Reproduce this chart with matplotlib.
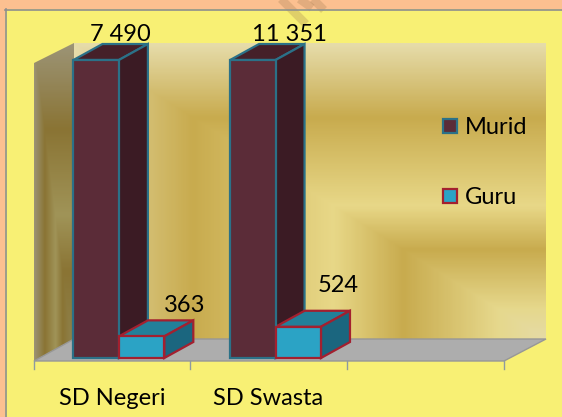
import numpy as np
import matplotlib
matplotlib.use('Agg')
import matplotlib.pyplot as plt
from matplotlib.colors import LinearSegmentedColormap
from matplotlib.patches import Polygon, Rectangle

plt.rcParams['font.family'] = ['Lato', 'DejaVu Sans']

categories = ['SD Negeri', 'SD Swasta', '']
murid = [7490, 11351, None]
guru = [363, 524, None]
series_names = ['Murid', 'Guru']
ymax = 5000  # axis is cut off here, the tall bars run into the top

W, H = 562, 417
fig = plt.figure(figsize=(W / 100, H / 100), dpi=100, facecolor='#f8f074')

# pixel layer for the frame and walls
bg = fig.add_axes([0, 0, 1, 1])
bg.set_xlim(0, W)
bg.set_ylim(H, 0)
bg.axis('off')
bg.add_patch(Rectangle((0, 0), W, 9, fc='#fcc090', ec='none'))
bg.add_patch(Rectangle((0, 0), 5, H, fc='#fcc090', ec='none'))
bg.plot([5, W], [9.5, 9.5], color='#8e8e8e', lw=1.2)
bg.plot([5.5, 5.5], [9, H], color='#8e8e8e', lw=1.2)

# bits of the faint watermark over the top edge
for seg in [((280, -2), (306, 24)), ((298, -2), (312, 8)), ((312, -2), (324, 10))]:
    bg.plot(*zip(*seg), color='#a07a50', alpha=0.28, lw=6, solid_capstyle='butt', zorder=1.5)

# back wall gradient
wall = LinearSegmentedColormap.from_list('wall', [
    (0, '#e5dba6'), (0.1, '#e6d88c'), (0.3, '#c8ab4e'), (0.45, '#e8d888'),
    (0.75, '#c8ab4e'), (1, '#e6dcaa')])
xx, yy = np.meshgrid(np.linspace(0, 1, 300), np.linspace(0, 1, 300))
t = np.maximum(1 - xx, 1 - yy)
bg.imshow(t, cmap=wall, extent=[74, 546, 339, 43], aspect='auto', zorder=1)

# left wall
left = LinearSegmentedColormap.from_list('left', [
    (0, '#8f8450'), (0.28, '#8a7434'), (0.46, '#a09458'),
    (0.73, '#8a7434'), (1, '#9c9476')])
im = bg.imshow(t, cmap=left, extent=[34, 74, 361, 43], aspect='auto', zorder=1)
im.set_clip_path(Polygon([(34, 63), (74, 43), (74, 339), (34, 361)],
                         transform=bg.transData))
bg.set_xlim(0, W)
bg.set_ylim(H, 0)

# floor
bg.add_patch(Polygon([(34, 361), (504, 361), (546, 339), (74, 339)],
                     fc='#adadad', ec='#979797', lw=1, zorder=2))

# data axes, x in categories, y in values
ax = fig.add_axes([33.5 / W, 1 - 358 / H, 470 / W, 298 / H])
ax.patch.set_alpha(0)
ax.set_xlim(0, len(categories))
ax.set_ylim(0, ymax)
for s in ax.spines.values():
    s.set_visible(False)
ax.set_yticks([])
ax.set_xticks([])
for i in range(len(categories) + 1):
    bg.plot([33.5 + i * 470 / 3] * 2, [361, 368.5], color='#8e9aa0', lw=1, zorder=2)

bar_w = 0.29
gap = 0.255
dx, dy = 29 / (470 / 3), 16 / 298 * ymax


def box(x0, val, front, top, side, edge):
    h = min(val, ymax)
    ax.bar(x0, h, bar_w, align='edge', color=front, edgecolor=edge, lw=1.6, zorder=4, clip_on=False)
    ax.add_patch(Polygon([(x0, h), (x0 + bar_w, h), (x0 + bar_w + dx, h + dy), (x0 + dx, h + dy)],
                         fc=top, ec=edge, lw=1.6, zorder=3, clip_on=False))
    ax.add_patch(Polygon([(x0 + bar_w, 0), (x0 + bar_w + dx, dy), (x0 + bar_w + dx, h + dy), (x0 + bar_w, h)],
                         fc=side, ec=edge, lw=1.6, zorder=3, clip_on=False))
    return h


# label offsets from the front top right corner, in pixels (72 pt = 100 px here)
murid_off = [(1, 19), (14, 19)]
guru_off = [(20, 24), (17, 35)]


def label(x, h, txt, off):
    ax.annotate(txt, (x, h), xytext=(off[0] * 0.72, off[1] * 0.72), textcoords='offset points',
                ha='center', va='baseline', fontsize=17, zorder=6, annotation_clip=False)


for i in range(2):
    x0 = i + gap
    h = box(x0, murid[i], '#5b2c38', '#452029', '#3b1b24', '#2b7188')
    label(x0 + bar_w, h, f'{murid[i]:,}'.replace(',', ' '), murid_off[i])
    h = box(x0 + bar_w, guru[i], '#2ba3c5', '#22809a', '#1b667f', '#a3202f')
    label(x0 + 2 * bar_w, h, str(guru[i]), guru_off[i])

for i, c in enumerate(categories):
    bg.text(33.5 + (i + 0.5) * 470 / 3, 405, c, ha='center', va='baseline', fontsize=17, zorder=6)

# legend
leg = [(126, '#5b2c38', '#2b7188'), (196, '#2ba3c5', '#a3202f')]
for name, (y, fc, ec) in zip(series_names, leg):
    bg.add_patch(Rectangle((443, y - 7), 14, 14, fc=fc, ec=ec, lw=1.6, zorder=6))
    bg.text(465, y + 8, name, ha='left', va='baseline', fontsize=17, zorder=6)

fig.savefig('out.png', dpi=100, facecolor=fig.get_facecolor())
